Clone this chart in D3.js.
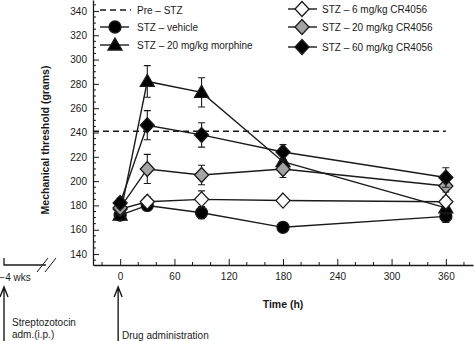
<!DOCTYPE html>
<html>
<head>
<meta charset="utf-8">
<script src="https://cdn.jsdelivr.net/npm/d3@7"></script>
<style>
  body { margin: 0; background: #fff; }
  svg { font-family: "Liberation Sans", Arial, sans-serif; }
</style>
</head>
<body>
<div id="chart"></div>
<script>
// sampling times (h) after drug administration
var times = [0, 30, 90, 180, 360];

// mechanical threshold (grams), mean and SEM per group
var vehicle = [172, 180, 174, 162, 171];
var vehicleErr = [4, 3, 5, 0, 5];
var morphine = [172, 282, 273, 216, 178];
var morphineErr = [4, 13, 12, 0, 5];
var cr6 = [177, 183, 185, 184, 183];
var cr6Err = [3, 4, 7, 3, 4];
var cr20 = [178, 210, 205, 210, 196];
var cr20Err = [3, 12, 8, 7, 5];
var cr60 = [182, 246, 238, 224, 203];
var cr60Err = [4, 12, 10, 6, 8];

var preStz = 241;

var xTicks = [0, 60, 120, 180, 240, 300, 360];
var yTicks = [140, 160, 180, 200, 220, 240, 260, 280, 300, 320, 340];

var groups = [
  { name: "STZ \u2013 vehicle", values: vehicle, err: vehicleErr, shape: "circle", fill: "#000" },
  { name: "STZ \u2013 20 mg/kg morphine", values: morphine, err: morphineErr, shape: "triangle", fill: "#000" },
  { name: "STZ \u2013 6 mg/kg CR4056", values: cr6, err: cr6Err, shape: "diamond", fill: "#fff" },
  { name: "STZ \u2013 20 mg/kg CR4056", values: cr20, err: cr20Err, shape: "diamond", fill: "#a3a3a3" },
  { name: "STZ \u2013 60 mg/kg CR4056", values: cr60, err: cr60Err, shape: "diamond", fill: "#000" }
];

var w = 474, h = 341;
var ink = "#1a1a1a";

var svg = d3.select("#chart").append("svg")
  .attr("width", w)
  .attr("height", h);

var x = d3.scaleLinear().domain([-30, 390]).range([93, 473]);
var y = d3.scaleLinear().domain([131, 349]).range([265, 0]);

// marker path for each shape, centred on 0,0
function marker(shape) {
  if (shape == "circle") return "M-6,0A6,6 0 1,0 6,0A6,6 0 1,0 -6,0Z";
  if (shape == "triangle") return "M0,-7L7,5L-7,5Z";
  return "M0,-7.5L7,0L0,7.5L-7,0Z";
}

// minor ticks
var gx = svg.append("g").attr("transform", "translate(0,265)");
gx.selectAll(".minor")
  .data(d3.range(-20, 390, 20).filter(function (d) { return d % 60 != 0; }))
  .enter().append("line")
  .attr("x1", function (d) { return x(d); })
  .attr("x2", function (d) { return x(d); })
  .attr("y1", 0).attr("y2", -3)
  .attr("stroke", ink);

var gy = svg.append("g").attr("transform", "translate(93,0)");
gy.selectAll(".minor")
  .data(d3.range(135, 350, 5).filter(function (d) { return d % 20 != 0; }))
  .enter().append("line")
  .attr("y1", function (d) { return y(d); })
  .attr("y2", function (d) { return y(d); })
  .attr("x1", 0).attr("x2", 3)
  .attr("stroke", ink);

// axes with inward ticks
var xAxis = d3.axisBottom(x).tickValues(xTicks).tickSize(-6).tickPadding(8).tickSizeOuter(0);
gx.call(xAxis);
var yAxis = d3.axisLeft(y).tickValues(yTicks).tickSize(-6).tickPadding(6).tickSizeOuter(0);
gy.call(yAxis);

svg.selectAll(".domain").attr("stroke", ink).attr("stroke-width", 1.3);
svg.selectAll(".tick line").attr("stroke", ink);
svg.selectAll(".tick text")
  .attr("font-size", 10)
  .attr("fill", ink)
  .attr("font-family", "Liberation Sans, Arial, sans-serif");

// broken axis segment for the -4 wks point
svg.append("path")
  .attr("d", "M4,258V265H46")
  .attr("fill", "none")
  .attr("stroke", ink)
  .attr("stroke-width", 1.3);
svg.append("path")
  .attr("d", "M37,272L48,258M45,272L56,258")
  .attr("stroke", ink)
  .attr("stroke-width", 1);
svg.append("text")
  .attr("x", 15).attr("y", 281)
  .attr("text-anchor", "middle")
  .attr("font-size", 10).attr("fill", ink)
  .text("\u22124 wks");

// axis titles
svg.append("text")
  .attr("x", 283).attr("y", 308)
  .attr("text-anchor", "middle")
  .attr("font-size", 10.5).attr("font-weight", "bold").attr("fill", ink)
  .text("Time (h)");
svg.append("text")
  .attr("transform", "translate(49,140) rotate(-90)")
  .attr("text-anchor", "middle")
  .attr("font-size", 10.5).attr("font-weight", "bold").attr("fill", ink)
  .text("Mechanical threshold (grams)");

// arrows under the axis
function arrow(px) {
  svg.append("path")
    .attr("d", "M" + px + ",341V288M" + (px - 4) + ",297L" + px + ",287L" + (px + 4) + ",297")
    .attr("fill", "none")
    .attr("stroke", ink)
    .attr("stroke-width", 1.4);
}
arrow(4);
arrow(x(0) - 2);

svg.append("text").attr("x", 12).attr("y", 326)
  .attr("font-size", 10).attr("fill", ink).text("Streptozotocin");
svg.append("text").attr("x", 12).attr("y", 338)
  .attr("font-size", 10).attr("fill", ink).text("adm.(i.p.)");
svg.append("text").attr("x", 122).attr("y", 339)
  .attr("font-size", 10).attr("fill", ink).text("Drug administration");

// pre-STZ baseline
svg.append("line")
  .attr("x1", x(-30)).attr("x2", x(360))
  .attr("y1", y(preStz)).attr("y2", y(preStz))
  .attr("stroke", ink)
  .attr("stroke-width", 1.5)
  .attr("stroke-dasharray", "6,4");

var line = d3.line()
  .x(function (d, i) { return x(times[i]); })
  .y(function (d) { return y(d); });

var plot = svg.append("g");

// connecting lines
plot.selectAll(".series")
  .data(groups)
  .enter().append("path")
  .attr("d", function (g) { return line(g.values); })
  .attr("fill", "none")
  .attr("stroke", ink)
  .attr("stroke-width", 1.4);

// error bars and markers, one group at a time
groups.forEach(function (g) {
  var pts = g.values.map(function (v, i) { return { t: times[i], v: v, e: g.err[i] }; });
  var eb = plot.append("g").selectAll("g")
    .data(pts.filter(function (p) { return p.e > 0; }))
    .enter().append("path")
    .attr("d", function (p) {
      var cx = x(p.t), top = y(p.v + p.e), bot = y(p.v - p.e);
      return "M" + cx + "," + top + "V" + bot +
        "M" + (cx - 3.5) + "," + top + "H" + (cx + 3.5) +
        "M" + (cx - 3.5) + "," + bot + "H" + (cx + 3.5);
    })
    .attr("fill", "none")
    .attr("stroke", ink)
    .attr("stroke-width", 1.1);
  plot.append("g").selectAll("path")
    .data(pts)
    .enter().append("path")
    .attr("transform", function (p) { return "translate(" + x(p.t) + "," + y(p.v) + ")"; })
    .attr("d", marker(g.shape))
    .attr("fill", g.fill)
    .attr("stroke", ink)
    .attr("stroke-width", 1.3);
});

// legend
var legend = [
  { name: "Pre \u2013 STZ", shape: null, fill: null, lx: 100, ly: 10 },
  { name: groups[0].name, shape: "circle", fill: groups[0].fill, lx: 100, ly: 27 },
  { name: groups[1].name, shape: "triangle", fill: groups[1].fill, lx: 100, ly: 45 },
  { name: groups[2].name, shape: "diamond", fill: groups[2].fill, lx: 288, ly: 9 },
  { name: groups[3].name, shape: "diamond", fill: groups[3].fill, lx: 288, ly: 27 },
  { name: groups[4].name, shape: "diamond", fill: groups[4].fill, lx: 288, ly: 47 }
];

var lg = svg.append("g").selectAll("g")
  .data(legend)
  .enter().append("g")
  .attr("transform", function (d) { return "translate(" + d.lx + "," + d.ly + ")"; });

lg.append("line")
  .attr("x1", 0)
  .attr("x2", function (d) { return d.shape ? 29 : 31; })
  .attr("stroke", ink)
  .attr("stroke-width", function (d) { return d.shape ? 1.4 : 1.5; })
  .attr("stroke-dasharray", function (d) { return d.shape ? null : "6,4"; });

lg.filter(function (d) { return d.shape; })
  .append("path")
  .attr("transform", function (d) { return "translate(" + (d.lx == 100 ? 15 : 14) + ",0)"; })
  .attr("d", function (d) { return marker(d.shape); })
  .attr("fill", function (d) { return d.fill; })
  .attr("stroke", ink)
  .attr("stroke-width", 1.3);

lg.append("text")
  .attr("x", function (d) { return d.lx == 100 ? 37 : 34; })
  .attr("dy", "0.35em")
  .attr("font-size", 10)
  .attr("fill", ink)
  .text(function (d) { return d.name; });
</script>
</body>
</html>
